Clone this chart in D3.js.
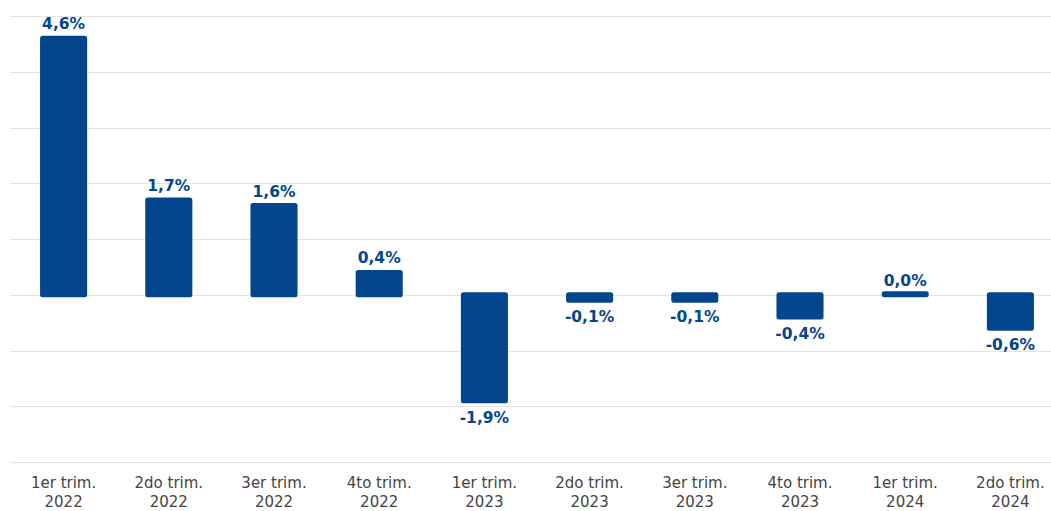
<!DOCTYPE html>
<html>
<head>
<meta charset="utf-8">
<script src="https://cdn.jsdelivr.net/npm/d3@7"></script>
<style>
  body { margin: 0; background: #fff; }
  svg { display: block; font-family: "DejaVu Sans", "Open Sans", sans-serif; }
</style>
</head>
<body>
<svg id="chart" width="1051" height="511"></svg>
<script>
// quarters and year on two lines
var quarters = ['1er trim.', '2do trim.', '3er trim.', '4to trim.', '1er trim.', '2do trim.', '3er trim.', '4to trim.', '1er trim.', '2do trim.'];
var years = ['2022', '2022', '2022', '2022', '2023', '2023', '2023', '2023', '2024', '2024'];
var values = [4.6, 1.7, 1.6, 0.4, -1.9, -0.1, -0.1, -0.4, 0.0, -0.6];
var grid_ticks = [-3, -2, -1, 0, 1, 2, 3, 4, 5];

var width = 1051, height = 511;
var bar_color = '#03468e';

var svg = d3.select('#chart');

var x = d3.scaleBand()
    .domain(d3.range(values.length))
    .range([11, 1063])
    .paddingInner(0.6)
    .paddingOuter(0.3);

var y = d3.scaleLinear()
    .domain([-3, 5])
    .range([462, 16]);

// gridlines
svg.append('g')
    .selectAll('line')
    .data(grid_ticks)
    .enter()
    .append('line')
    .attr('x1', 10)
    .attr('x2', width)
    .attr('y1', function(d){ return Math.round(y(d)) + 0.5; })
    .attr('y2', function(d){ return Math.round(y(d)) + 0.5; })
    .attr('stroke', '#e3e3e3')
    .attr('stroke-width', 1.2);

// bars (stroke with round joins gives the soft corners)
svg.append('g')
    .selectAll('rect')
    .data(values)
    .enter()
    .append('rect')
    .attr('x', function(d, i){ return x(i); })
    .attr('width', x.bandwidth())
    .attr('y', function(d){ return d > 0 ? y(d) : y(0) - (d == 0 ? 1 : 0); })
    .attr('height', function(d){ return Math.max(1, Math.abs(y(d) - y(0))); })
    .attr('fill', bar_color)
    .attr('stroke', bar_color)
    .attr('stroke-width', 5)
    .attr('stroke-linejoin', 'round');

// value labels
function fmt(v){
    return (v < 0 ? '-' : '') + Math.abs(v).toFixed(1).replace('.', ',') + '%';
}

svg.append('g')
    .selectAll('text')
    .data(values)
    .enter()
    .append('text')
    .attr('x', function(d, i){ return x(i) + x.bandwidth() / 2; })
    .attr('y', function(d){ return d >= 0 ? y(d) - 9 : y(d) + 22; })
    .attr('text-anchor', 'middle')
    .attr('font-size', 15.5)
    .attr('font-weight', 'bold')
    .attr('fill', bar_color)
    .text(fmt);

// category labels
var cat = svg.append('g')
    .selectAll('text')
    .data(quarters)
    .enter()
    .append('text')
    .attr('text-anchor', 'middle')
    .attr('font-size', 15)
    .attr('fill', '#444');

cat.append('tspan')
    .attr('x', function(d, i){ return x(i) + x.bandwidth() / 2; })
    .attr('y', 488)
    .text(function(d){ return d; });

cat.append('tspan')
    .attr('x', function(d, i){ return x(i) + x.bandwidth() / 2; })
    .attr('y', 507)
    .text(function(d, i){ return years[i]; });
</script>
</body>
</html>
